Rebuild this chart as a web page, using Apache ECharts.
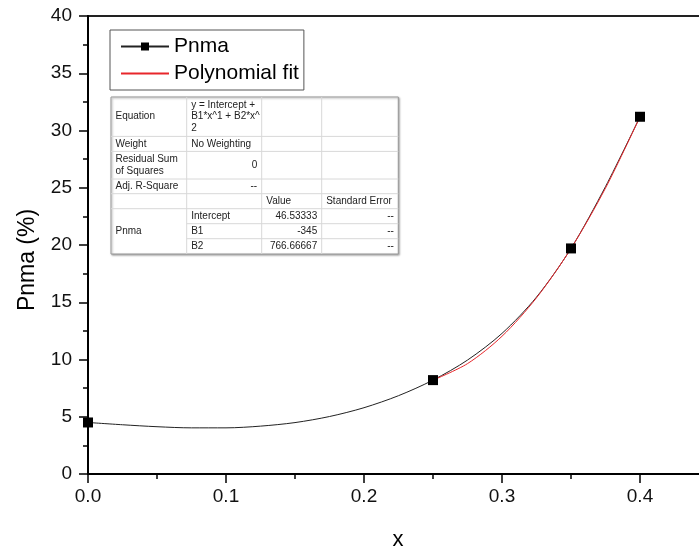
<!DOCTYPE html>
<html>
<head>
<meta charset="utf-8">
<script src="https://cdn.jsdelivr.net/npm/echarts@6/dist/echarts.min.js"></script>
<style>
html, body { margin: 0; padding: 0; background: #fff; }
#main { width: 699px; height: 551px; }
</style>
</head>
<body>
<div id="main"></div>
<script>
// measured points (square markers)
var pnmaX = [0, 0.25, 0.35, 0.4];
var pnmaY = [4.5, 8.2, 19.7, 31.2];

// black connecting curve
var curveX = [0, 0.025, 0.05, 0.075, 0.1, 0.125, 0.15, 0.175, 0.2, 0.225, 0.25, 0.275, 0.3, 0.325, 0.35, 0.375, 0.4];
var curveY = [4.5, 4.3, 4.13, 4.03, 4.03, 4.18, 4.49, 5.02, 5.79, 6.84, 8.2, 9.95, 12.28, 15.45, 19.7, 25.1, 31.2];

// red polynomial fit
var fitX = [0.25, 0.275, 0.3, 0.325, 0.35, 0.375, 0.4];
var fitY = [8.2, 9.64, 12.03, 15.39, 19.7, 24.97, 31.2];

// fit result table
var tableRows = [
    ['Equation', 'y = Intercept +\nB1*x^1 + B2*x^\n2', '', ''],
    ['Weight', 'No Weighting', '', ''],
    ['Residual Sum\nof Squares', '0', '', ''],
    ['Adj. R-Square', '--', '', ''],
    ['', '', 'Value', 'Standard Error'],
    ['Pnma', 'Intercept', '46.53333', '--'],
    ['', 'B1', '-345', '--'],
    ['', 'B2', '766.66667', '--']
];
// which cells are right aligned: "row,col"
var rightCells = ['2,1', '3,1', '5,2', '6,2', '7,2', '5,3', '6,3', '7,3'];

var dom = document.getElementById('main');
var myChart = echarts.init(dom);

var pnmaData = curveX.map(function (x, i) {
    var k = pnmaX.indexOf(x);
    if (k >= 0) {
        return { value: [x, pnmaY[k]], symbol: 'rect' };
    }
    return { value: [x, curveY[i]], symbol: 'none' };
});
var fitData = fitX.map(function (x, i) { return [x, fitY[i]]; });

// table graphic
function buildTable() {
    var left = 111, top = 97;
    var colX = [0, 75.7, 150.7, 210.7, 287.3];
    var rowY = [0, 39.4, 54.4, 82, 96.7, 111.7, 126.7, 141.7, 157];
    var font = '10px "Liberation Sans", Arial, sans-serif';
    var els = [];
    els.push({
        type: 'rect',
        shape: { x: left, y: top, width: colX[4], height: rowY[8] },
        style: { fill: '#fff', stroke: '#999', lineWidth: 1, shadowBlur: 2, shadowOffsetX: 1, shadowOffsetY: 1, shadowColor: 'rgba(0,0,0,0.35)' }
    });
    var i;
    for (i = 1; i < 4; i++) {
        els.push({ type: 'line', shape: { x1: left + colX[i], y1: top, x2: left + colX[i], y2: top + rowY[8] }, style: { stroke: '#d8d8d8', lineWidth: 1 } });
    }
    for (i = 1; i < 8; i++) {
        var x1 = (i >= 6) ? left + colX[1] : left;
        els.push({ type: 'line', shape: { x1: x1, y1: top + rowY[i], x2: left + colX[4], y2: top + rowY[i] }, style: { stroke: '#d8d8d8', lineWidth: 1 } });
    }
    tableRows.forEach(function (row, r) {
        row.forEach(function (txt, c) {
            if (!txt) return;
            var right = rightCells.indexOf(r + ',' + c) >= 0;
            var y0 = top + rowY[r], y1 = top + rowY[r + 1];
            if (r === 5 && c === 0) y1 = top + rowY[8];
            els.push({
                type: 'text',
                z: 10,
                style: {
                    text: txt,
                    x: right ? left + colX[c + 1] - 4.5 : left + colX[c] + 4.5,
                    y: (y0 + y1) / 2,
                    textAlign: right ? 'right' : 'left',
                    textVerticalAlign: 'middle',
                    font: font,
                    lineHeight: 11.5,
                    fill: '#222'
                }
            });
        });
    });
    return els;
}

var option = {
    backgroundColor: '#fff',
    animation: false,
    textStyle: { fontFamily: '"Liberation Sans", Arial, sans-serif' },
    grid: {
        left: 88, top: 16, width: 690, height: 458,
        outerBoundsMode: 'none',
        containLabel: false,
        show: true, borderColor: '#222', borderWidth: 2, backgroundColor: 'transparent'
    },
    legend: {
        orient: 'vertical',
        left: 110,
        top: 30,
        data: [
            { name: 'Pnma' },
            { name: 'Polynomial fit', itemStyle: { opacity: 0 } }
        ],
        borderColor: '#555',
        borderWidth: 1,
        padding: [6, 5, 6, 10],
        itemWidth: 48,
        itemHeight: 10,
        itemGap: 6,
        textStyle: { fontSize: 21, color: '#000' }
    },
    xAxis: {
        type: 'value',
        min: 0,
        max: 0.5,
        interval: 0.1,
        name: 'x',
        nameLocation: 'middle',
        nameGap: 55,
        nameTextStyle: { fontSize: 22, color: '#000', padding: [0, 70, 0, 0] },
        axisLine: { lineStyle: { color: '#000', width: 2 } },
        axisTick: { length: 9, lineStyle: { color: '#000', width: 1.5 } },
        minorTick: { show: true, splitNumber: 2, length: 5, lineStyle: { color: '#000', width: 1.5 } },
        splitLine: { show: false },
        axisLabel: {
            fontSize: 19, color: '#111', margin: 13,
            formatter: function (v) { return v.toFixed(1); }
        }
    },
    yAxis: {
        type: 'value',
        min: 0,
        max: 40,
        interval: 5,
        name: 'Pnma (%)',
        nameLocation: 'middle',
        nameRotate: 90,
        nameGap: 49,
        nameTextStyle: { fontSize: 23, color: '#000', padding: [0, 30, 0, 0] },
        axisLine: { lineStyle: { color: '#000', width: 2 } },
        axisTick: { length: 9, lineStyle: { color: '#000', width: 1.5 } },
        minorTick: { show: true, splitNumber: 2, length: 5, lineStyle: { color: '#000', width: 1.5 } },
        splitLine: { show: false },
        axisLabel: { fontSize: 19, color: '#111', margin: 16 }
    },
    series: [
        {
            name: 'Pnma',
            type: 'line',
            smooth: 0.3,
            showAllSymbol: true,
            symbol: 'rect',
            symbolSize: 10,
            itemStyle: { color: '#000' },
            lineStyle: { color: '#222', width: 1 },
            data: pnmaData
        },
        {
            name: 'Polynomial fit',
            type: 'line',
            smooth: 0.3,
            symbol: 'none',
            itemStyle: { color: '#e8262b' },
            lineStyle: { color: '#e8262b', width: 1 },
            data: fitData
        }
    ],
    graphic: buildTable()
};

myChart.setOption(option);
</script>
</body>
</html>
